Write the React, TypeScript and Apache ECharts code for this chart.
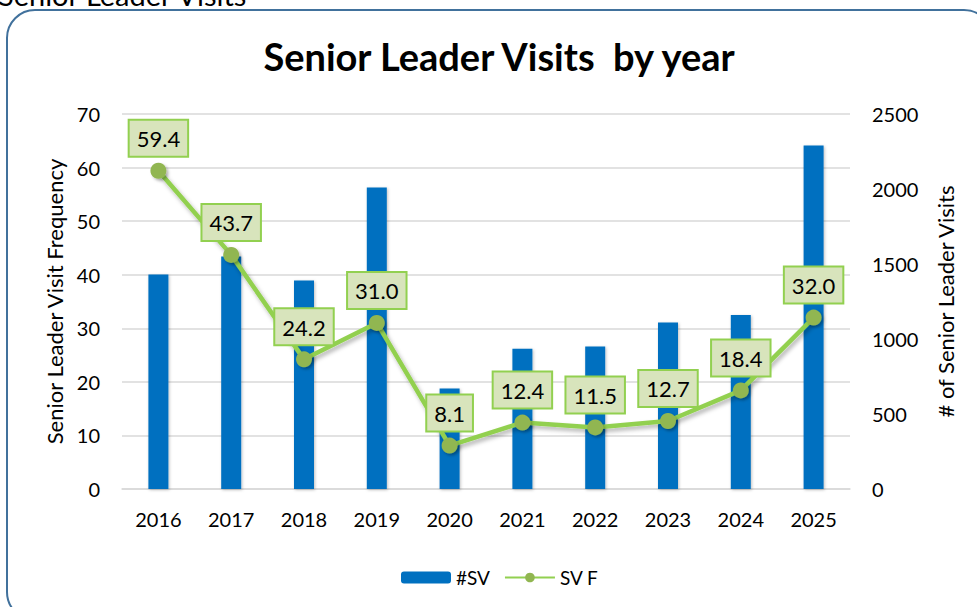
import React, { useEffect, useRef } from "react";
import * as echarts from "echarts";

const years = ["2016", "2017", "2018", "2019", "2020", "2021", "2022", "2023", "2024", "2025"];
const visitCounts = [1430, 1550, 1390, 2010, 670, 935, 950, 1110, 1160, 2290];
const visitFrequency = [59.4, 43.7, 24.2, 31.0, 8.1, 12.4, 11.5, 12.7, 18.4, 32.0];
const leftTicks = { min: 0, max: 70, interval: 10 };
const rightTicks = { min: 0, max: 2500, interval: 500 };

const FONT = "Lato, 'Noto Sans', sans-serif";

export default function App() {
  const ref = useRef<HTMLDivElement>(null);
  useEffect(() => {
    if (!ref.current) return;
    const chart = echarts.init(ref.current, undefined, { renderer: "svg" });
    chart.setOption({
      animation: false,
      backgroundColor: "#ffffff",
      textStyle: { fontFamily: FONT },
      graphic: [
        {
          type: "text",
          x: -2,
          y: 9,
          style: { text: "Senior Leader Visits", font: `29px ${FONT}`, fill: "#000", verticalAlign: "bottom" },
        },
        {
          type: "rect",
          shape: { x: 7, y: 10, width: 985, height: 610, r: 28 },
          style: { fill: "none", stroke: "#41719c", lineWidth: 2 },
          z: -1,
        },
        {
          type: "text",
          x: 499,
          y: 56,
          style: {
            text: "Senior Leader Visits  by year",
            font: `bold 38px ${FONT}`,
            fill: "#000",
            align: "center",
            verticalAlign: "middle",
          },
        },
      ],
      grid: { left: 122, right: 977 - 850, top: 114, bottom: 607 - 489, containLabel: false },
      legend: {
        left: 396,
        top: 563,
        itemWidth: 50,
        itemHeight: 12,
        itemGap: 14,
        textStyle: { fontSize: 19, color: "#000", fontFamily: FONT },
        data: ["#SV", "SV F"],
      },
      xAxis: {
        type: "category",
        data: years,
        axisLine: { lineStyle: { color: "#d9d9d9", width: 1.5 } },
        axisTick: { show: false },
        axisLabel: { fontSize: 20, color: "#000", margin: 20 },
      },
      yAxis: [
        {
          type: "value",
          ...leftTicks,
          name: "Senior Leader Visit Frequency",
          nameLocation: "middle",
          nameRotate: 90,
          nameGap: 57,
          nameTextStyle: { fontSize: 22, color: "#000" },
          axisLine: { show: false },
          axisTick: { show: false },
          axisLabel: { fontSize: 20, color: "#000", margin: 22 },
          splitLine: { lineStyle: { color: "#d9d9d9", width: 1.5 } },
        },
        {
          type: "value",
          position: "right",
          ...rightTicks,
          name: "# of Senior Leader Visits",
          nameLocation: "middle",
          nameRotate: 90,
          nameGap: 84,
          nameTextStyle: { fontSize: 22, color: "#000" },
          axisLine: { show: false },
          axisTick: { show: false },
          axisLabel: { fontSize: 20, color: "#000", margin: 22, formatter: (v: number) => String(v) },
          splitLine: { show: false },
        },
      ],
      series: [
        {
          name: "#SV",
          type: "bar",
          yAxisIndex: 1,
          data: visitCounts,
          barWidth: 20,
          itemStyle: {
            color: "#0070c0",
            shadowColor: "rgba(0,0,0,0.25)",
            shadowBlur: 3,
            shadowOffsetX: 1,
            shadowOffsetY: 1,
          },
        },
        {
          name: "SV F",
          type: "line",
          yAxisIndex: 0,
          data: visitFrequency,
          symbol: "circle",
          symbolSize: 16,
          lineStyle: {
            color: "#92d050",
            width: 4.5,
            shadowColor: "rgba(0,0,0,0.3)",
            shadowBlur: 4,
            shadowOffsetX: 2,
            shadowOffsetY: 3,
          },
          itemStyle: {
            color: "#91b651",
            shadowColor: "rgba(0,0,0,0.3)",
            shadowBlur: 3,
            shadowOffsetX: 2,
            shadowOffsetY: 2,
          },
          label: {
            show: true,
            position: "top",
            distance: 7,
            formatter: (p: any) => Number(p.value).toFixed(1),
            fontSize: 22,
            color: "#000",
            fontFamily: FONT,
            backgroundColor: "#d8e4bc",
            borderColor: "#92d050",
            borderWidth: 2,
            padding: [7, 7, 6, 7],
          },
          z: 5,
        },
      ],
    });
    return () => chart.dispose();
  }, []);
  return <div ref={ref} style={{ position: "fixed", left: 0, top: 0, width: 977, height: 607 }} />;
}
